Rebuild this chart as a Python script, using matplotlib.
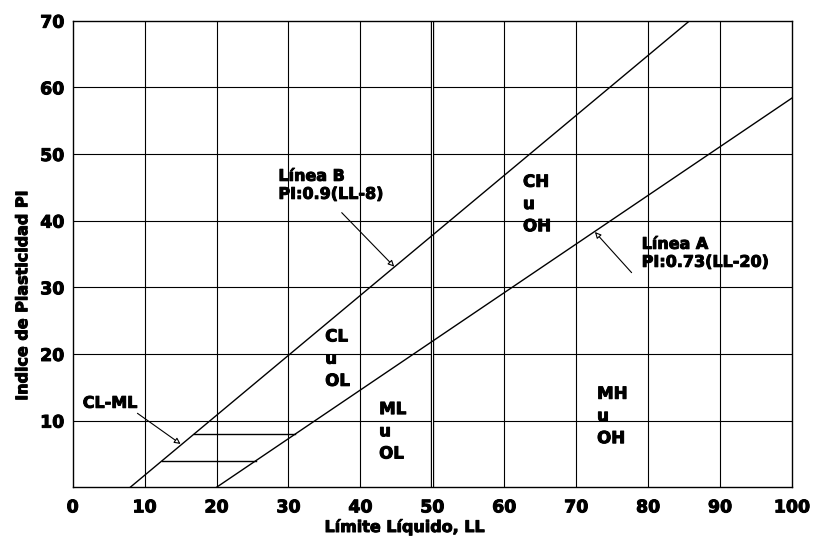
import matplotlib.pyplot as plt
import matplotlib.patheffects as pe
import numpy as np

plt.rcParams['font.family'] = 'DejaVu Sans'
plt.rcParams['font.weight'] = 'bold'

# Carta de plasticidad (Casagrande)
# Linea A: PI = 0.73(LL-20), Linea B: PI = 0.9(LL-8)
ll_range = np.array([0, 100])
linea_a = (0.73, 20)
linea_b = (0.9, 8)

# zona CL-ML entre PI=4 y PI=8
pi_clml = [4, 8]

# etiquetas de zonas (LL, PI, texto)
zonas = [
    (62.6, 42.5, 'CH\nu\nOH'),
    (35.1, 19.3, 'CL\nu\nOL'),
    (42.6, 8.4, 'ML\nu\nOL'),
    (72.9, 10.7, 'MH\nu\nOH'),
]

x_ticks = [0, 10, 20, 30, 40, 50, 60, 70, 80, 90, 100]
y_ticks = [10, 20, 30, 40, 50, 60, 70]

# trazo extra para que el texto se vea mas pesado
heavy = [pe.withStroke(linewidth=0.7, foreground='black')]

fig = plt.figure(figsize=(8.14, 5.36), dpi=100)
ax = fig.add_axes([0.0893, 0.0909, 0.8837, 0.8705])

ax.set_xlim(0, 100)
ax.set_ylim(0, 70)

# grid
for x in x_ticks[1:-1]:
    ax.axvline(x, color='black', lw=0.8)
for y in y_ticks[:-1]:
    ax.axhline(y, color='black', lw=0.8)
# LL = 50 (linea doble)
ax.axvline(50, color='black', lw=2.4)
ax.axvline(50, color='white', lw=0.7)

for s in ax.spines.values():
    s.set_linewidth(1.0)

# lineas A y B
ax.plot(ll_range, linea_a[0] * (ll_range - linea_a[1]), color='black', lw=1.0)
ax.plot(ll_range, linea_b[0] * (ll_range - linea_b[1]), color='black', lw=1.0)

# horizontales CL-ML
for pi in pi_clml:
    x1 = linea_b[1] + pi / linea_b[0]
    x2 = linea_a[1] + pi / linea_a[0]
    ax.plot([x1, x2], [pi, pi], color='black', lw=1.0)

for x, y, t in zonas:
    ax.text(x, y, t, fontsize=12, fontweight='bold', ha='left', va='center',
            linespacing=1.3, path_effects=heavy)

arrow = dict(arrowstyle='-|>', color='black', lw=0.8, fc='white',
             mutation_scale=9, shrinkA=0, shrinkB=0)

ax.annotate('', xy=(44.7, 33.1), xytext=(37.4, 41.2), arrowprops=arrow)
ax.text(28.6, 45.3, 'Línea B\nPI:0.9(LL-8)', fontsize=11.5, fontweight='bold',
        ha='left', va='center', linespacing=1.25, path_effects=heavy)

ax.annotate('', xy=(72.6, 38.3), xytext=(77.7, 32.2), arrowprops=arrow)
ax.text(79.1, 35.1, 'Línea A\nPI:0.73(LL-20)', fontsize=11.5, fontweight='bold',
        ha='left', va='center', linespacing=1.25, path_effects=heavy)

ax.annotate('', xy=(15.0, 6.5), xytext=(9.0, 11.1), arrowprops=arrow)
ax.text(1.4, 12.6, 'CL-ML', fontsize=11.5, fontweight='bold', ha='left',
        va='center', path_effects=heavy)

ax.set_xticks(x_ticks)
ax.set_yticks(y_ticks)
ax.tick_params(axis='both', length=0, labelsize=12.5)
ax.tick_params(axis='x', pad=8)
ax.tick_params(axis='y', pad=6)
for lbl in ax.get_xticklabels() + ax.get_yticklabels():
    lbl.set_path_effects(heavy)

ax.set_xlabel('Límite Líquido, LL', fontsize=11.5, fontweight='bold',
              path_effects=heavy)
ax.xaxis.set_label_coords(0.462, -0.068)
ax.set_ylabel('Indice de Plasticidad PI', fontsize=11.5, fontweight='bold',
              path_effects=heavy)
ax.yaxis.set_label_coords(-0.059, 0.412)

plt.savefig('out.png', dpi=100)
